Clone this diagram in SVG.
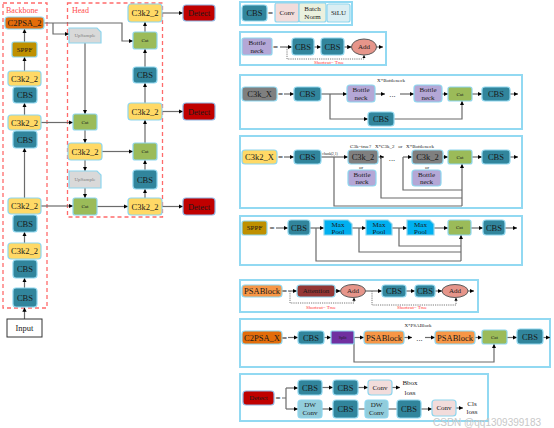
<svg xmlns="http://www.w3.org/2000/svg" width="554" height="428" viewBox="0 0 554 428">
<defs>
<marker id="a" viewBox="0 0 6 6" refX="6" refY="3" markerWidth="3.6" markerHeight="3.6" orient="auto"><path d="M0,0L6,3L0,6z" fill="#000"/></marker>
<style>
.n{stroke:#8ED6EE;stroke-width:1.2}
.cbs{fill:#31859C}.c3{fill:#FFD966}.cat{fill:#9BBB59}.c2p{fill:#E36C0A}.sppf{fill:#BF9000}
.up{fill:#D9D9D9}.det{fill:#C00000;stroke:#8DB4E2}.gray{fill:#7F7F7F}.bn{fill:#B4A7D6}
.conv{fill:#F2DCDB}.bnorm{fill:#EBF1DE}.silu{fill:#DAEEF3}.mp{fill:#00B0F0}.psa{fill:#F79646}
.att{fill:#943634}.add{fill:#E6958A;stroke:#595959;stroke-width:1}.split{fill:#7030A0}.dw{fill:#92CDDC}
.inp{fill:#fff;stroke:#333;stroke-width:1}
.mod{fill:#fff;stroke:#92D9F2;stroke-width:2}
.dash{fill:none;stroke:#FF6B6B;stroke-width:1.3;stroke-dasharray:4,3}
text{font-family:"Liberation Serif","Times New Roman",serif;fill:#1a1a1a}
.t{font-size:8.5px;text-anchor:middle;dominant-baseline:central}
.s{font-size:7px;text-anchor:middle;dominant-baseline:central}
.xs{font-size:5px;text-anchor:middle;dominant-baseline:central}
.lab{font-size:8px;fill:#FF4D4D}
.red{font-size:5px;fill:#FF3333;text-anchor:middle}
.eq{font-size:9px;font-weight:bold;text-anchor:middle;dominant-baseline:central}
#conn path{fill:none;stroke:#6B6B6B;stroke-width:1.2}
#conn path.ar{marker-end:url(#a)}
#conn path.dot{stroke:#6B6B6B;stroke-width:0.9;stroke-dasharray:1.2,1}
</style>
</defs>
<rect width="554" height="428" fill="#fff"/>

<!-- dashed regions -->
<g id="backbone-region"><rect class="dash" x="3" y="3" width="44" height="305"/><text class="lab" x="6" y="13">Backbone</text></g>
<g id="head-region"><rect class="dash" x="67.5" y="3" width="95" height="214"/><text class="lab" x="72" y="13">Head</text></g>

<!-- module boxes -->
<g id="modules">
<rect class="mod" x="240" y="2" width="112" height="23"/>
<rect class="mod" x="240" y="32" width="146" height="33"/>
<rect class="mod" x="240" y="75" width="282" height="54"/>
<rect class="mod" x="240" y="136" width="282" height="72"/>
<rect class="mod" x="240" y="216" width="282" height="49"/>
<rect class="mod" x="240" y="280" width="238" height="32"/>
<rect class="mod" x="240" y="319" width="310" height="48"/>
<rect class="mod" x="240" y="374" width="248" height="47"/>
</g>

<g id="conn">
<!-- backbone -->
<path class="ar" d="M24.5,319V307.5"/>
<path class="ar" d="M24.5,288V278"/>
<path class="ar" d="M24.5,243V232"/>
<path class="ar" d="M24.5,198V148"/>
<path class="ar" d="M24.5,115V103"/>
<path class="ar" d="M24.5,71V57"/>
<path class="ar" d="M24.5,42V29"/>
<!-- head -->
<path class="ar" d="M44,23H122V41H133"/>
<path class="ar" d="M53,23V34H69"/>
<path class="ar" d="M85,43V114"/>
<path class="ar" d="M41,122.5H73"/>
<path class="ar" d="M85,130V143"/>
<path class="ar" d="M102,151.5H133"/>
<path class="ar" d="M85,160V171"/>
<path class="ar" d="M85,188V198"/>
<path class="ar" d="M41,206H73"/>
<path class="ar" d="M97,206.5H128"/>
<path class="ar" d="M162,206.5H183"/>
<path class="ar" d="M145,198V189"/>
<path class="ar" d="M145,170V160"/>
<path class="ar" d="M145,143V120"/>
<path class="ar" d="M162,111.5H183"/>
<path class="ar" d="M145,103V83"/>
<path class="ar" d="M145,67V49"/>
<path class="ar" d="M145,32V22"/>
<path class="ar" d="M162,13H183"/>
<!-- bottleneck -->
<path class="ar" d="M280,47H292"/>
<path class="ar" d="M314,47H321"/>
<path class="ar" d="M344,47H351.5"/>
<path class="ar" d="M376.5,47H383"/>
<path class="dot ar" d="M287,47V59H364V55"/>
<!-- C3k_X -->
<path class="ar" d="M284,94H294"/>
<path class="ar" d="M321,94H347"/>
<path class="ar" d="M330,94V119H368"/>
<path class="ar" d="M375,94H385"/>
<path class="ar" d="M400,94H414"/>
<path class="ar" d="M442,94H448"/>
<path class="ar" d="M472,94H482"/>
<path class="ar" d="M510,94H518"/>
<path class="ar" d="M394,119H462V101"/>
<!-- C3k2_X -->
<path class="ar" d="M284,157H294"/>
<path class="ar" d="M321,157H348"/>
<path d="M334,157V206H462"/>
<path class="ar" d="M378,157H384"/>
<path d="M381,157V198H462"/>
<path class="ar" d="M403,157H412"/>
<path d="M403,157V190H462"/>
<path class="ar" d="M462,206V164"/>
<path class="ar" d="M443,157H448"/>
<path class="ar" d="M472,157H482"/>
<path class="ar" d="M510,157H518"/>
<!-- SPPF -->
<path class="ar" d="M276,228H288"/>
<path class="ar" d="M310,228H324"/>
<path d="M316,228V261H461"/>
<path class="ar" d="M352,228H366"/>
<path d="M359,228V252H461"/>
<path class="ar" d="M392,228H407"/>
<path d="M399,228V246H461"/>
<path class="ar" d="M461,261V235"/>
<path class="ar" d="M434,228H448"/>
<path class="ar" d="M471,228H483"/>
<path class="ar" d="M505,228H517"/>
<!-- PSABlock -->
<path class="ar" d="M288,291H297"/>
<path class="ar" d="M335,291H340.5"/>
<path class="ar" d="M365.5,291H382"/>
<path class="ar" d="M406,291H415"/>
<path class="ar" d="M435,291H442"/>
<path class="ar" d="M468,291H474"/>
<path class="dot ar" d="M290,291V303H354V297.5"/>
<path class="dot ar" d="M372,291V305H456V297.5"/>
<!-- C2PSA_X -->
<path class="ar" d="M288,337.5H298"/>
<path class="ar" d="M324,337.5H331"/>
<path class="ar" d="M354,337.5H364"/>
<path class="ar" d="M354,337.5V362H494V344"/>
<path class="ar" d="M404,337.5H412"/>
<path class="ar" d="M425,337.5H435"/>
<path class="ar" d="M475,337.5H482"/>
<path class="ar" d="M507,337.5H517"/>
<path class="ar" d="M543,337.5H550"/>
<!-- Detect -->
<path d="M282,398H286M286,388V409"/>
<path class="ar" d="M286,388H298"/>
<path class="ar" d="M286,409H298"/>
<path class="ar" d="M322,387.5H333"/>
<path class="ar" d="M358,387.5H368"/>
<path class="ar" d="M392,387.5H400"/>
<path class="ar" d="M322,409H333"/>
<path d="M358,409H365"/>
<path d="M388,409H397"/>
<path class="ar" d="M421,409H432"/>
<path class="ar" d="M456,408H463"/>
</g>

<!-- backbone nodes -->
<g id="input"><rect class="inp" x="7" y="319" width="35" height="18"/><text class="t" x="24.5" y="328">Input</text></g>
<g id="bb-cbs1"><rect class="n cbs" x="13" y="288" width="24" height="19" rx="3"/><text class="t" x="25" y="297.5">CBS</text></g>
<g id="bb-cbs2"><rect class="n cbs" x="13" y="260" width="24" height="18" rx="3"/><text class="t" x="25" y="269">CBS</text></g>
<g id="bb-c3k2-1"><rect class="n c3" x="8" y="243" width="33" height="16" rx="3"/><text class="t" x="24.5" y="251">C3k2_2</text></g>
<g id="bb-cbs3"><rect class="n cbs" x="13" y="215" width="24" height="17" rx="3"/><text class="t" x="25" y="223.5">CBS</text></g>
<g id="bb-c3k2-2"><rect class="n c3" x="8" y="198" width="33" height="16" rx="3"/><text class="t" x="24.5" y="206">C3k2_2</text></g>
<g id="bb-cbs4"><rect class="n cbs" x="13" y="131" width="24" height="17" rx="3"/><text class="t" x="25" y="139.5">CBS</text></g>
<g id="bb-c3k2-3"><rect class="n c3" x="8" y="115" width="33" height="15" rx="3"/><text class="t" x="24.5" y="122.5">C3k2_2</text></g>
<g id="bb-cbs5"><rect class="n cbs" x="13" y="87" width="24" height="16" rx="3"/><text class="t" x="25" y="95">CBS</text></g>
<g id="bb-c3k2-4"><rect class="n c3" x="8" y="71" width="33" height="15" rx="3"/><text class="t" x="24.5" y="78.5">C3k2_2</text></g>
<g id="bb-sppf"><rect class="n sppf" x="12" y="42" width="25" height="15" rx="2"/><text class="s" x="24.5" y="49.5">SPPF</text></g>
<g id="bb-c2psa"><rect class="n c2p" x="5" y="17" width="39" height="12" rx="3"/><text class="t" x="24.5" y="23">C2PSA_2</text></g>

<!-- head nodes -->
<g id="h-up1"><path class="n up" d="M69,28H97L101,32V43H69Z"/><text class="xs" x="85" y="35.5" style="fill:#7F7F7F">UpSample</text></g>
<g id="h-cat1"><rect class="n cat" x="73" y="114" width="24" height="16" rx="2"/><text class="xs" x="85" y="122">Cat</text></g>
<g id="h-c3k2-1"><rect class="n c3" x="68" y="143" width="34" height="17" rx="3"/><text class="t" x="85" y="151.5">C3k2_2</text></g>
<g id="h-up2"><path class="n up" d="M69,171H97L101,175V188H69Z"/><text class="xs" x="85" y="179.5" style="fill:#7F7F7F">UpSample</text></g>
<g id="h-cat2"><rect class="n cat" x="73" y="198" width="24" height="17" rx="2"/><text class="xs" x="85" y="206.5">Cat</text></g>
<g id="h-c3k2-2"><rect class="n c3" x="128" y="198" width="34" height="17" rx="3"/><text class="t" x="145" y="206.5">C3k2_2</text></g>
<g id="h-cbs1"><rect class="n cbs" x="133" y="170" width="24" height="19" rx="3"/><text class="t" x="145" y="179.5">CBS</text></g>
<g id="h-cat3"><rect class="n cat" x="133" y="143" width="24" height="17" rx="2"/><text class="xs" x="145" y="151.5">Cat</text></g>
<g id="h-c3k2-3"><rect class="n c3" x="128" y="103" width="34" height="17" rx="3"/><text class="t" x="145" y="111.5">C3k2_2</text></g>
<g id="h-cbs2"><rect class="n cbs" x="133" y="67" width="24" height="16" rx="3"/><text class="t" x="145" y="75">CBS</text></g>
<g id="h-cat4"><rect class="n cat" x="133" y="32" width="24" height="17" rx="2"/><text class="xs" x="145" y="40.5">Cat</text></g>
<g id="h-c3k2-4"><rect class="n c3" x="128" y="4" width="34" height="18" rx="3"/><text class="t" x="145" y="13">C3k2_2</text></g>
<g id="det1"><rect class="n det" x="183" y="5" width="32" height="16" rx="3"/><text class="t" x="199" y="13">Detect</text></g>
<g id="det2"><rect class="n det" x="183" y="103" width="32" height="17" rx="3"/><text class="t" x="199" y="111.5">Detect</text></g>
<g id="det3"><rect class="n det" x="183" y="198" width="32" height="17" rx="3"/><text class="t" x="199" y="206.5">Detect</text></g>

<!-- legend CBS -->
<g id="lg-cbs"><rect class="n cbs" x="242" y="5" width="25" height="16" rx="3"/><text class="t" x="254.5" y="13">CBS</text></g>
<text class="eq" x="270.5" y="13">=</text>
<g id="lg-conv"><rect class="n conv" x="275" y="3" width="24" height="19" rx="2"/><text class="s" x="287" y="12.5">Conv</text></g>
<g id="lg-bn"><rect class="n bnorm" x="299" y="3" width="27" height="19" rx="2"/><text class="s" x="312.5" y="8.5">Batch</text><text class="s" x="312.5" y="17">Norm</text></g>
<g id="lg-silu"><rect class="n silu" x="327" y="4" width="23" height="18" rx="2"/><text class="s" x="338.5" y="13">SiLU</text></g>

<!-- Bottleneck -->
<g id="bt-title"><rect class="n bn" x="242" y="38" width="30" height="17" rx="2"/><text class="s" x="257" y="42.5">Bottle</text><text class="s" x="257" y="50.5">neck</text></g>
<text class="eq" x="275.5" y="47">=</text>
<g id="bt-cbs1"><rect class="n cbs" x="292" y="38" width="22" height="17" rx="3"/><text class="t" x="303" y="46.5">CBS</text></g>
<g id="bt-cbs2"><rect class="n cbs" x="321" y="38" width="23" height="17" rx="3"/><text class="t" x="332.5" y="46.5">CBS</text></g>
<g id="bt-add"><ellipse class="add" cx="364" cy="47" rx="12.5" ry="8"/><text class="s" x="364" y="47">Add</text></g>
<text class="red" x="329" y="64">Shortcut= True</text>

<!-- C3k_X -->
<text class="xs" x="391" y="80">X*Bottleneck</text>
<g id="c3k-title"><rect class="n gray" x="242" y="87" width="35" height="14" rx="3"/><text class="t" x="259.5" y="94">C3k_X</text></g>
<text class="eq" x="280.5" y="94">=</text>
<g id="c3k-cbs1"><rect class="n cbs" x="294" y="87" width="27" height="14" rx="3"/><text class="t" x="307.5" y="94">CBS</text></g>
<g id="c3k-bn1"><rect class="n bn" x="347" y="85" width="28" height="17" rx="3"/><text class="s" x="361" y="89.5">Bottle</text><text class="s" x="361" y="97.5">neck</text></g>
<text class="t" x="392.5" y="94">...</text>
<g id="c3k-bn2"><rect class="n bn" x="414" y="85" width="28" height="17" rx="3"/><text class="s" x="428" y="89.5">Bottle</text><text class="s" x="428" y="97.5">neck</text></g>
<g id="c3k-cat"><rect class="n cat" x="448" y="87" width="24" height="14" rx="2"/><text class="xs" x="460" y="94">Cat</text></g>
<g id="c3k-cbs2"><rect class="n cbs" x="482" y="87" width="28" height="14" rx="3"/><text class="t" x="496" y="94">CBS</text></g>
<g id="c3k-cbs3"><rect class="n cbs" x="368" y="112" width="26" height="14" rx="3"/><text class="t" x="381" y="119">CBS</text></g>

<!-- C3k2_X -->
<text class="xs" x="392" y="146" style="white-space:pre">C3k=true?   X*C3k_2   or   X*Bottleneck</text>
<g id="c3k2-title"><rect class="n c3" x="242" y="150" width="35" height="14" rx="3"/><text class="t" x="259.5" y="157">C3k2_X</text></g>
<text class="eq" x="280.5" y="157">=</text>
<g id="c3k2-cbs1"><rect class="n cbs" x="294" y="150" width="27" height="14" rx="3"/><text class="t" x="307.5" y="157">CBS</text></g>
<text x="330" y="155" style="font-size:3.5px;text-anchor:middle">chunk(2,1)</text>
<g id="c3k2-c3k1"><rect class="n gray" x="348" y="150" width="30" height="14" rx="3"/><text class="t" x="363" y="157">C3k_2</text></g>
<text class="xs" x="361" y="167.5">or</text>
<g id="c3k2-bn1"><rect class="n bn" x="348" y="170" width="28" height="16" rx="3"/><text class="s" x="362" y="174.5">Bottle</text><text class="s" x="362" y="182">neck</text></g>
<text class="t" x="392" y="158">...</text>
<g id="c3k2-c3k2"><rect class="n gray" x="412" y="150" width="31" height="14" rx="3"/><text class="t" x="427.5" y="157">C3k_2</text></g>
<text class="xs" x="427" y="167.5">or</text>
<g id="c3k2-bn2"><rect class="n bn" x="412" y="170" width="29" height="16" rx="3"/><text class="s" x="426.5" y="174.5">Bottle</text><text class="s" x="426.5" y="182">neck</text></g>
<g id="c3k2-cat"><rect class="n cat" x="448" y="150" width="24" height="14" rx="2"/><text class="xs" x="460" y="157">Cat</text></g>
<g id="c3k2-cbs2"><rect class="n cbs" x="482" y="150" width="28" height="14" rx="3"/><text class="t" x="496" y="157">CBS</text></g>

<!-- SPPF -->
<g id="sppf-title"><rect class="n sppf" x="242" y="221" width="25" height="14" rx="2"/><text class="s" x="254.5" y="228">SPPF</text></g>
<text class="eq" x="272" y="228">=</text>
<g id="sppf-cbs1"><rect class="n cbs" x="288" y="220" width="22" height="15" rx="3"/><text class="t" x="299" y="227.5">CBS</text></g>
<g id="sppf-mp1"><path class="n mp" d="M324,220H348L352,224V235H324Z"/><text class="s" x="338" y="224.5">Max</text><text class="s" x="338" y="231.5">Pool</text></g>
<g id="sppf-mp2"><path class="n mp" d="M366,220H388L392,224V235H366Z"/><text class="s" x="379" y="224.5">Max</text><text class="s" x="379" y="231.5">Pool</text></g>
<g id="sppf-mp3"><path class="n mp" d="M407,220H430L434,224V235H407Z"/><text class="s" x="420.5" y="224.5">Max</text><text class="s" x="420.5" y="231.5">Pool</text></g>
<g id="sppf-cat"><rect class="n cat" x="448" y="220" width="23" height="15" rx="2"/><text class="xs" x="459.5" y="227.5">Cat</text></g>
<g id="sppf-cbs2"><rect class="n cbs" x="483" y="220" width="22" height="15" rx="3"/><text class="t" x="494" y="227.5">CBS</text></g>

<!-- PSABlock -->
<g id="psa-title"><rect class="n psa" x="242" y="285" width="40" height="12" rx="3"/><text class="t" x="262" y="291">PSABlock</text></g>
<text class="eq" x="284.5" y="291">=</text>
<g id="psa-att"><rect class="n att" x="297" y="285" width="38" height="12" rx="3"/><text class="s" x="316" y="291">Attention</text></g>
<g id="psa-add1"><ellipse class="add" cx="353" cy="291" rx="12.5" ry="6.5"/><text class="s" x="353" y="291">Add</text></g>
<g id="psa-cbs1"><rect class="n cbs" x="382" y="285" width="24" height="12" rx="3"/><text class="t" x="394" y="291">CBS</text></g>
<g id="psa-cbs2"><rect class="n cbs" x="415" y="285" width="20" height="12" rx="3"/><text class="t" x="425" y="291">CBS</text></g>
<g id="psa-add2"><ellipse class="add" cx="455" cy="291" rx="13" ry="6.5"/><text class="s" x="455" y="291">Add</text></g>
<text class="red" x="321" y="309">Shortcut= True</text>
<text class="red" x="412" y="309">Shortcut= True</text>

<!-- C2PSA_X -->
<text class="xs" x="418" y="325">X*PSABlock</text>
<g id="c2psa-title"><rect class="n c2p" x="242" y="331" width="40" height="13" rx="3"/><text class="t" x="262" y="337.5">C2PSA_X</text></g>
<text class="eq" x="284.5" y="337.5">=</text>
<g id="c2psa-cbs1"><rect class="n cbs" x="298" y="331" width="26" height="13" rx="3"/><text class="t" x="311" y="337.5">CBS</text></g>
<g id="c2psa-split"><rect class="n split" x="331" y="331" width="23" height="13" rx="1"/><text x="342.5" y="337.5" style="font-size:4px;text-anchor:middle;dominant-baseline:central">Split</text></g>
<g id="c2psa-psa1"><rect class="n psa" x="364" y="331" width="40" height="13" rx="3"/><text class="t" x="384" y="337.5">PSABlock</text></g>
<text class="t" x="419.5" y="338">...</text>
<g id="c2psa-psa2"><rect class="n psa" x="435" y="331" width="40" height="13" rx="3"/><text class="t" x="455" y="337.5">PSABlock</text></g>
<g id="c2psa-cat"><rect class="n cat" x="482" y="330" width="25" height="14" rx="2"/><text class="xs" x="494.5" y="337">Cat</text></g>
<g id="c2psa-cbs2"><rect class="n cbs" x="517" y="329" width="26" height="15" rx="3"/><text class="t" x="530" y="336.5">CBS</text></g>

<!-- Detect -->
<g id="det-title"><rect class="n det" x="243" y="391" width="31" height="14" rx="3"/><text class="s" x="258.5" y="398">Detect</text></g>
<text class="eq" x="278" y="398">=</text>
<g id="det-cbs1"><rect class="n cbs" x="298" y="380" width="24" height="15" rx="3"/><text class="t" x="310" y="387.5">CBS</text></g>
<g id="det-cbs2"><rect class="n cbs" x="333" y="380" width="25" height="15" rx="3"/><text class="t" x="345.5" y="387.5">CBS</text></g>
<g id="det-conv1"><rect class="n conv" x="368" y="380" width="24" height="15" rx="3"/><text class="s" x="380" y="387.5">Conv</text></g>
<text class="s" x="410" y="383">Bbox</text><text class="s" x="410" y="393">loss</text>
<g id="det-dw1"><rect class="n dw" x="298" y="400" width="24" height="18" rx="3"/><text class="s" x="310" y="405">DW</text><text class="s" x="310" y="413">Conv</text></g>
<g id="det-cbs3"><rect class="n cbs" x="333" y="400" width="25" height="18" rx="3"/><text class="t" x="345.5" y="409">CBS</text></g>
<g id="det-dw2"><rect class="n dw" x="365" y="400" width="23" height="18" rx="3"/><text class="s" x="376.5" y="405">DW</text><text class="s" x="376.5" y="413">Conv</text></g>
<g id="det-cbs4"><rect class="n cbs" x="397" y="400" width="24" height="18" rx="3"/><text class="t" x="409" y="409">CBS</text></g>
<g id="det-conv2"><rect class="n conv" x="432" y="400" width="24" height="16" rx="3"/><text class="s" x="444" y="408">Conv</text></g>
<text class="s" x="472" y="404">Cls</text><text class="s" x="472" y="412">loss</text>

<text x="433" y="426" style="font-family:'Liberation Sans',Arial,sans-serif;font-size:10px;fill:#C8C8C8">CSDN @qq1309399183</text>
</svg>
